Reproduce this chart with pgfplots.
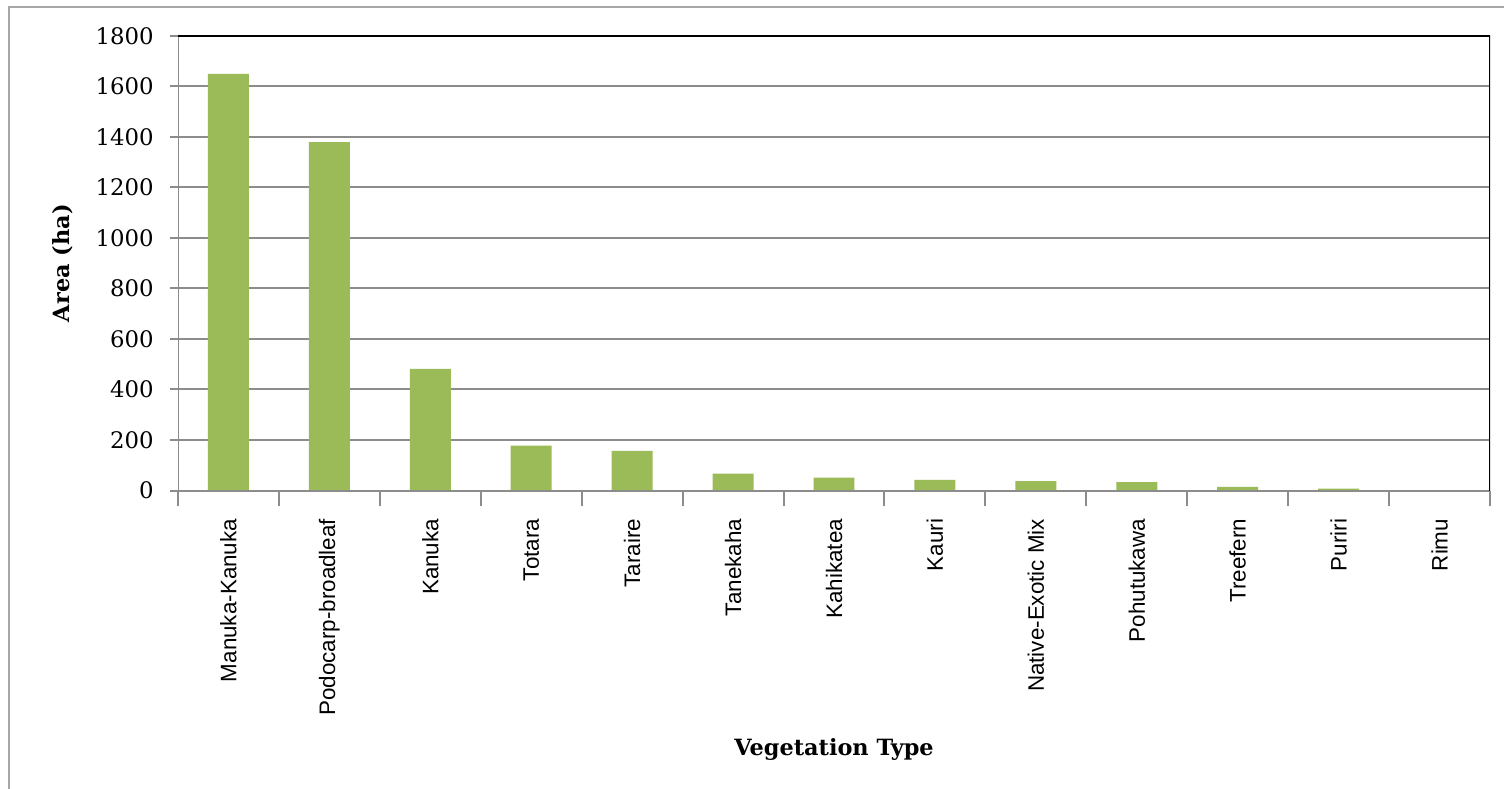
\documentclass[border=0pt]{standalone}
\usepackage{fontspec}
\setmainfont{DejaVu Serif}
\newfontfamily\catfont{Liberation Sans}
\usepackage{pgfplots}
\pgfplotsset{compat=1.18}
\definecolor{bargreen}{HTML}{9BBB59}
\definecolor{gridgray}{HTML}{8C8C8C}
\definecolor{framegray}{HTML}{A6A6A6}

\pgfplotstableread{
x area
0 1650
1 1380
2 482
3 178
4 157
5 67
6 51
7 42
8 37
9 33
10 14
11 7
12 1
}\areatable

\begin{document}
\begin{tikzpicture}
\path[use as bounding box] (0,0) rectangle (752bp,394.5bp);
\clip (0,0) rectangle (752bp,394.5bp);
% chart frame
\draw[framegray, line width=1bp] (4.5bp,-5bp) -- (4.5bp,391bp) -- (760bp,391bp);
\begin{axis}[
  at={(89bp,149.25bp)}, anchor=south west,
  scale only axis, width=656bp, height=227.25bp,
  ymin=0, ymax=1800, ytick={0,200,...,1800},
  xmin=-0.5, xmax=12.5,
  xtick={0,...,12},
  xticklabels={Manuka-Kanuka,Podocarp-broadleaf,Kanuka,Totara,Taraire,Tanekaha,Kahikatea,Kauri,Native-Exotic Mix,Pohutukawa,Treefern,Puriri,Rimu},
  minor xtick={-0.5,0.5,...,12.5},
  major x tick style={draw=none},
  tick pos=left,
  xtick align=center, ytick align=outside,
  major tick length=4bp, minor tick length=7.5bp,
  tick style={gridgray, line width=1bp},
  axis line style={draw=none},
  ymajorgrids, grid style={gridgray, line width=1bp},
  /pgf/number format/assume math mode=true,
  /pgf/number format/1000 sep={},
  yticklabel style={font=\fontsize{11.4bp}{13bp}\selectfont, inner xsep=8bp},
  xticklabel style={font=\catfont\fontsize{11.2bp}{13bp}\selectfont, rotate=90, anchor=east, inner xsep=10bp},
  ylabel={\bfseries Area (ha)},
  ylabel style={at={(axis description cs:-0.088,0.5)}, anchor=center, font=\fontsize{11.2bp}{13bp}\selectfont},
  xlabel={\bfseries Vegetation Type},
  xlabel style={at={(axis description cs:0.5,0)}, anchor=base, yshift=-132.5bp, font=\fontsize{11.2bp}{13bp}\selectfont},
  ybar, bar width=0.406,
]
\addplot[fill=bargreen, draw=none] table[x=x, y=area] {\areatable};
% axis lines: grey on the left and bottom, black on top and right
\draw[gridgray, line width=1bp] (rel axis cs:0,0) -- (rel axis cs:1,0);
\draw[gridgray, line width=1bp] (rel axis cs:0,0) -- (rel axis cs:0,1);
\draw[black, line width=0.9bp] (rel axis cs:0,1) -- (rel axis cs:1,1) -- (rel axis cs:1,0);
\end{axis}
\end{tikzpicture}
\end{document}
